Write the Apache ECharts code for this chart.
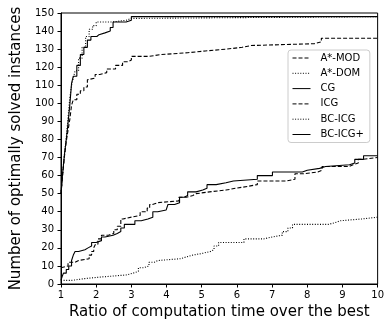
<!DOCTYPE html>
<html><head><meta charset="utf-8">
<script src="https://cdn.jsdelivr.net/npm/echarts@6/dist/echarts.min.js"></script>
<style>html,body{margin:0;padding:0;background:#fff}#c{width:387px;height:325px}</style>
</head><body><div id="c"></div>
<script>
const names = ['A*-MOD', 'A*-DOM', 'CG', 'ICG', 'BC-ICG', 'BC-ICG+'];

const amodX = [1.0, 1.05, 1.1, 1.15, 1.2, 1.25, 1.3, 1.35, 1.45, 1.55, 1.65, 1.75, 1.8, 1.97, 2.1, 2.3, 2.55, 2.75, 2.9, 3.0, 3.5, 3.85, 4.6, 5.1, 5.7, 6.15, 6.4, 8.2, 8.4, 10];
const amodY = [50, 61, 71, 79, 85, 91, 99, 102, 105, 107, 109, 113, 114, 116, 117, 119, 121, 123, 124, 126, 127, 128, 129, 130, 131, 132, 133, 134, 136, 136];

const adomX = [1.0, 1.05, 1.1, 1.15, 1.2, 1.25, 1.3, 1.35, 1.4, 1.5, 1.6, 1.7, 1.8, 1.9, 2.0, 2.45, 2.85, 3.0, 10];
const adomY = [50, 62, 72, 81, 92, 103, 110, 114, 118, 125, 131, 137, 141, 143, 145, 146, 147, 148, 148];

const cgX = [1.0, 1.05, 1.1, 1.15, 1.2, 1.25, 1.3, 1.35, 1.45, 1.55, 1.65, 1.75, 1.85, 2.02, 2.08, 2.25, 2.4, 2.48, 2.85, 3.0, 10];
const cgY = [50, 62, 72, 80, 89, 99, 111, 115, 121, 127, 131, 135, 137, 138, 139, 140, 142, 145, 146, 148, 148];

const icgX = [1.0, 1.05, 1.2, 1.4, 1.5, 1.8, 1.87, 1.93, 1.98, 2.05, 2.15, 2.35, 2.5, 2.6, 2.7, 2.76, 3.0, 3.25, 3.45, 3.52, 3.6, 3.75, 4.35, 4.56, 4.75, 4.84, 5.22, 5.69, 5.97, 6.3, 6.58, 7.4, 7.65, 7.9, 8.3, 8.42, 9.18, 9.3, 9.45, 9.56, 10];
const icgY = [9, 10, 12, 13, 14, 16, 18, 20, 22, 25, 27, 28, 30, 32, 36, 37, 38, 40, 42, 44, 45, 46, 48, 49, 50, 51, 52, 53, 54, 55, 57, 58, 61, 62, 63, 65, 66, 67, 69, 70, 70];

const bcX = [1.0, 1.3, 1.68, 2.22, 2.85, 3.05, 3.2, 3.35, 3.5, 3.65, 3.75, 4.4, 4.56, 4.75, 5.03, 5.25, 5.35, 5.48, 6.2, 6.77, 7.0, 7.29, 7.45, 7.58, 8.6, 8.8, 8.94, 9.55, 10];
const bcY = [2, 3, 4, 5, 6, 7, 9, 10, 12, 13, 14, 15, 16, 17, 18, 19, 21, 23, 25, 26, 27, 29, 31, 33, 34, 35, 36, 37, 37];

const bcpX = [1.0, 1.03, 1.07, 1.15, 1.22, 1.3, 1.35, 1.4, 1.5, 1.68, 1.77, 1.87, 2.0, 2.15, 2.25, 2.48, 2.6, 2.7, 2.8, 3.1, 3.28, 3.47, 3.61, 3.75, 3.99, 4.04, 4.23, 4.37, 4.5, 4.6, 4.84, 5.03, 5.15, 5.41, 5.69, 5.9, 6.58, 7.01, 7.86, 8.0, 8.35, 8.52, 9.2, 9.35, 9.6, 10];
const bcpY = [2, 4, 6, 8, 10, 13, 16, 18, 19, 20, 21, 23, 24, 26, 27, 28, 29, 31, 33, 35, 36, 37, 40, 41, 42, 44, 45, 48, 49, 51, 52, 53, 55, 56, 57, 58, 60, 62, 63, 64, 65, 66, 67, 69, 71, 71];

const xTicks = [1, 10, 1];   // min, max, interval
const yTicks = [0, 150, 10];

function zip(xs, ys) { return xs.map((x, i) => [x, ys[i]]); }

const dashed = [4, 2];
const dotted = [1, 1.6];
const font = 'DejaVu Sans';

function mk(name, xs, ys, type) {
  return {
    name: name, type: 'line', step: 'end', data: zip(xs, ys),
    symbol: 'none', animation: false,
    lineStyle: { color: '#000', width: 1.1, type: type },
    itemStyle: { color: '#000' }
  };
}

const chart = echarts.init(document.getElementById('c'), null, { renderer: 'canvas' });
chart.setOption({
  backgroundColor: '#fff',
  animation: false,
  grid: { left: 61, right: 8, top: 13, bottom: 41, show: true, borderColor: '#000', borderWidth: 1 },
  legend: {
    orient: 'vertical', left: 288, top: 50,
    itemWidth: 18, itemHeight: 10, itemGap: 5.3,
    padding: [3, 6, 3, 4],
    backgroundColor: '#fff', borderColor: '#ccc', borderWidth: 1, borderRadius: 3,
    itemStyle: { opacity: 0 },
    lineStyle: { width: 1 },
    textStyle: { fontFamily: font, fontSize: 10, color: '#000', padding: [0, 0, 0, 5] },
    data: names
  },
  xAxis: {
    type: 'value', min: xTicks[0], max: xTicks[1], interval: xTicks[2],
    name: 'Ratio of computation time over the best', nameLocation: 'middle', nameGap: 16,
    nameTextStyle: { fontFamily: font, fontSize: 15, color: '#000' },
    axisLine: { onZero: false, lineStyle: { color: '#000', width: 1 } },
    axisTick: { show: true, length: 3.5, lineStyle: { color: '#000' } },
    axisLabel: { fontFamily: font, fontSize: 10, color: '#000', margin: 6 },
    splitLine: { show: false }
  },
  yAxis: {
    type: 'value', min: yTicks[0], max: yTicks[1], interval: yTicks[2],
    name: 'Number of optimally solved instances', nameLocation: 'middle', nameGap: 26,
    nameTextStyle: { fontFamily: font, fontSize: 15, color: '#000' },
    axisLine: { onZero: false, lineStyle: { color: '#000', width: 1 } },
    axisTick: { show: true, length: 3.5, lineStyle: { color: '#000' } },
    axisLabel: { fontFamily: font, fontSize: 10, color: '#000', margin: 7 },
    splitLine: { show: false }
  },
  series: [
    mk(names[0], amodX, amodY, dashed),
    mk(names[1], adomX, adomY, dotted),
    mk(names[2], cgX, cgY, 'solid'),
    mk(names[3], icgX, icgY, dashed),
    mk(names[4], bcX, bcY, dotted),
    mk(names[5], bcpX, bcpY, 'solid')
  ]
});
</script></body></html>
